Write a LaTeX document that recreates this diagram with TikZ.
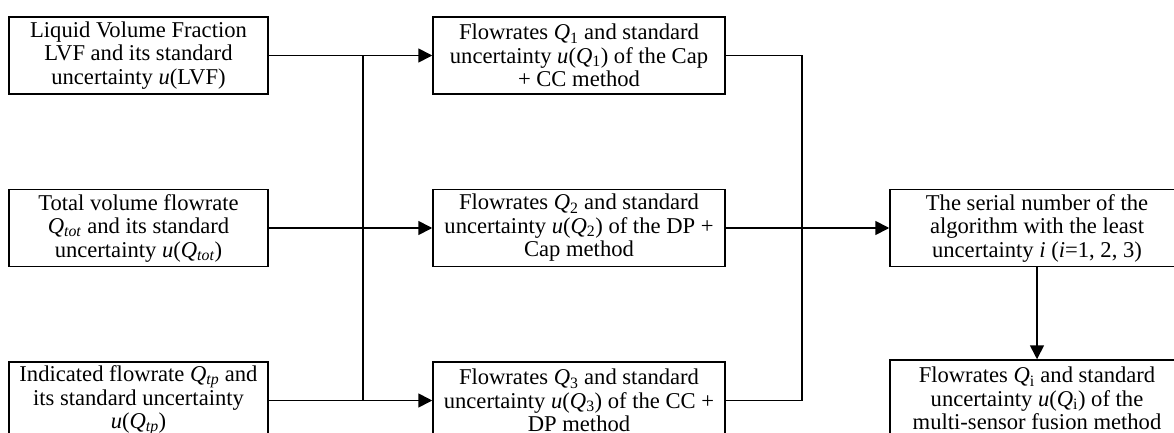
\documentclass[tikz,border=0pt]{standalone}
\usepackage{fontspec}
\setmainfont{Liberation Serif}
\usetikzlibrary{arrows.meta}
\begin{document}
\begin{tikzpicture}[x=1pt,y=-1pt,
  box/.style={draw, line width=1.5pt, minimum width=#1, minimum height=77pt,
    inner sep=0pt, align=center, font=\fontsize{22.6}{23.5}\selectfont},
  conn/.style={line width=1.7pt},
  arr/.style={conn, -{Triangle[length=14pt,width=14pt]}}]
\useasboundingbox (0,0) rectangle (1174,433);
\clip (0,0) rectangle (1174,433);
% left column
\node[box=259pt] (lvf) at (138.5,55.5) {Liquid Volume Fraction\\LVF and its standard\\uncertainty \textit{u}(LVF)};
\node[box=259pt] (tot) at (138.5,228) {Total volume flowrate\\\textit{Q}\textsubscript{\textit{tot}} and its standard\\uncertainty \textit{u}(\textit{Q}\textsubscript{\textit{tot}})};
\node[box=259pt] (tp) at (138.5,400.5) {Indicated flowrate \textit{Q}\textsubscript{\textit{tp}} and\\its standard uncertainty\\\textit{u}(\textit{Q}\textsubscript{\textit{tp}})};
% middle column
\node[box=292pt] (m1) at (579,55.5) {Flowrates \textit{Q}\textsubscript{1} and standard\\uncertainty \textit{u}(\textit{Q}\textsubscript{1}) of the Cap\\+ CC method};
\node[box=292pt] (m2) at (579,228) {Flowrates \textit{Q}\textsubscript{2} and standard\\uncertainty \textit{u}(\textit{Q}\textsubscript{2}) of the DP +\\Cap method};
\node[box=292pt] (m3) at (579,400.5) {Flowrates \textit{Q}\textsubscript{3} and standard\\uncertainty \textit{u}(\textit{Q}\textsubscript{3}) of the CC +\\DP method};
% right column
\node[box=294pt] (res) at (1037,228) {The serial number of the\\algorithm with the least\\uncertainty \textit{i} (\textit{i}=1, 2, 3)};
\node[box=294pt] (fus) at (1037,398.5) {Flowrates \textit{Q}\textsubscript{i} and standard\\uncertainty \textit{u}(\textit{Q}\textsubscript{i}) of the\\multi-sensor fusion method};
% junction columns
\coordinate (jx) at (363,0);
\coordinate (rx) at (802,0);
% connectors
\draw[arr] (lvf.east) -- (m1.west);
\draw[arr] (tot.east) -- (m2.west);
\draw[arr] (tp.east) -- (m3.west);
\draw[conn] (lvf.east -| jx) -- (tp.east -| jx);
\draw[conn] (m1.east) -- (m1.east -| rx) -- (m3.east -| rx) -- (m3.east);
\draw[arr] (m2.east) -- (res.west);
\draw[arr] (res.south) -- (fus.north);
\end{tikzpicture}
\end{document}
